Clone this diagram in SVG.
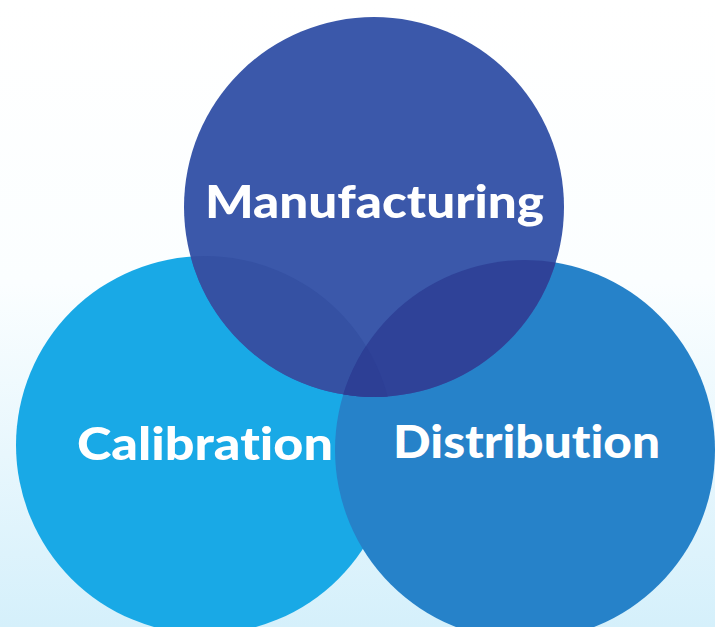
<svg xmlns="http://www.w3.org/2000/svg" width="715" height="627" viewBox="0 0 715 627">
  <defs>
    <linearGradient id="bg" x1="0" y1="0" x2="0" y2="1">
      <stop offset="0" stop-color="#ffffff"/>
      <stop offset="0.45" stop-color="#fbfeff"/>
      <stop offset="1" stop-color="#d5f0fb"/>
    </linearGradient>
    <clipPath id="clipM"><circle cx="374" cy="207" r="190"/></clipPath>
    <clipPath id="clipC"><circle cx="205" cy="445" r="189"/></clipPath>
  </defs>
  <style>
    .lbl { font-family: "Lato", "Liberation Sans", "DejaVu Sans", sans-serif; font-weight: 900; font-size: 46px; fill: #ffffff; font-variant-ligatures: none; font-feature-settings: "liga" 0; }
  </style>
  <rect x="0" y="0" width="715" height="627" fill="url(#bg)"/>
  <g id="calibration">
    <circle cx="205" cy="445" r="189" fill="#19a9e6"/>
  </g>
  <g id="distribution">
    <circle cx="525" cy="450" r="190" fill="#2682c9"/>
  </g>
  <g id="manufacturing">
    <circle cx="374" cy="207" r="190" fill="#3b58aa"/>
  </g>
  <g id="overlaps">
    <g clip-path="url(#clipM)">
      <circle cx="205" cy="445" r="189" fill="#3551a3"/>
      <circle cx="525" cy="450" r="190" fill="#2f4298"/>
    </g>
    <g clip-path="url(#clipC)">
      <g clip-path="url(#clipM)">
        <circle cx="525" cy="450" r="190" fill="#2d3f95"/>
      </g>
    </g>
  </g>
  <g id="labels">
    <text class="lbl" x="205" y="218" textLength="339" lengthAdjust="spacingAndGlyphs">Manufacturing</text>
    <text class="lbl" x="77" y="460" textLength="256" lengthAdjust="spacingAndGlyphs">Calibration</text>
    <text class="lbl" x="393" y="458" textLength="267" lengthAdjust="spacingAndGlyphs">Distribution</text>
  </g>
</svg>
